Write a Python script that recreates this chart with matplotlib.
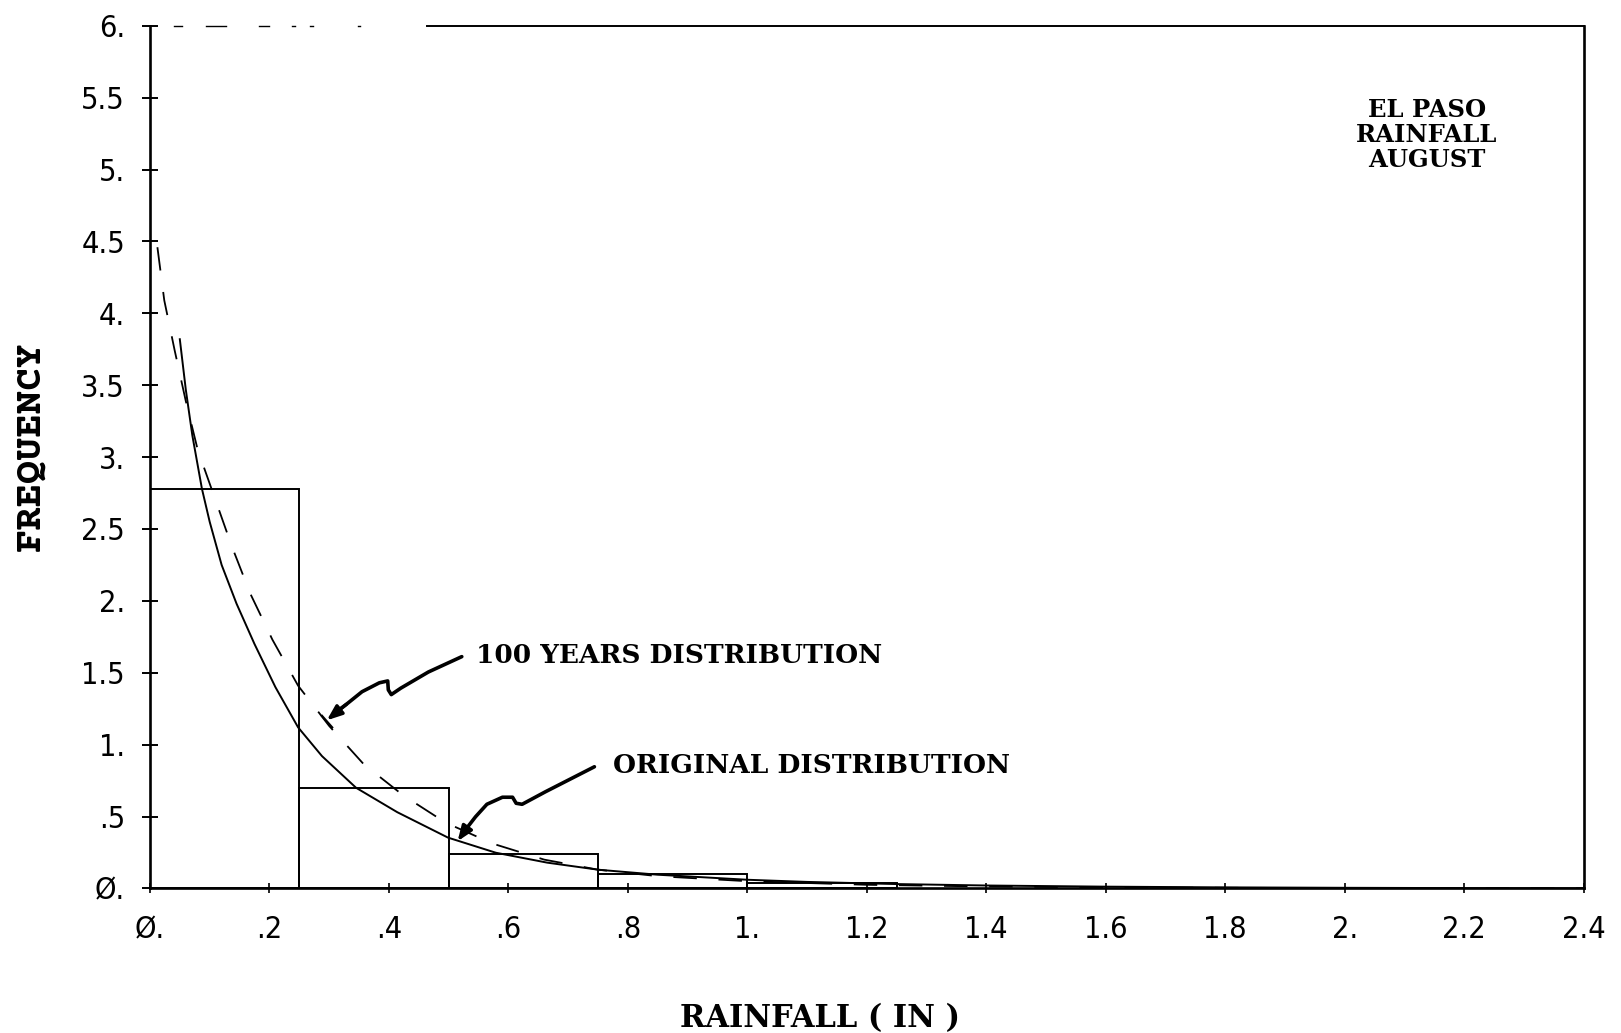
import matplotlib
matplotlib.use("Agg")
import matplotlib.pyplot as plt

# histogram of August rainfall, bins of 0.25 in
bin_left = [0.0, 0.25, 0.50, 0.75, 1.00]
bin_height = [2.78, 0.70, 0.24, 0.10, 0.04]
bin_width = 0.25

# fitted density, original record (solid)
orig_x = [0.050, 0.060, 0.071, 0.087, 0.100, 0.120, 0.145, 0.175, 0.210, 0.248, 0.288,
          0.345, 0.414, 0.499, 0.579, 0.665, 0.750, 0.850, 1.00, 1.10, 1.25, 1.40,
          1.60, 1.80, 2.00, 2.20, 2.40]
orig_y = [3.82, 3.47, 3.15, 2.78, 2.55, 2.25, 1.98, 1.70, 1.40, 1.12, 0.92,
          0.70, 0.53, 0.353, 0.248, 0.179, 0.130, 0.095, 0.060, 0.045, 0.030, 0.020,
          0.012, 0.007, 0.004, 0.002, 0.001]

# fitted density, 100 years of generated data (dashed)
sim_x = [0.0125, 0.024, 0.0415, 0.060, 0.080, 0.109, 0.137, 0.168, 0.205, 0.248, 0.300,
         0.358, 0.424, 0.495, 0.574, 0.660, 0.750, 0.850, 1.00, 1.20, 1.40, 1.60,
         1.80, 2.00, 2.40]
sim_y = [4.46, 4.09, 3.74, 3.39, 3.05, 2.71, 2.38, 2.05, 1.73, 1.41, 1.13,
         0.863, 0.647, 0.457, 0.311, 0.200, 0.130, 0.085, 0.050, 0.025, 0.013, 0.007,
         0.004, 0.002, 0.001]

x_ticks = [0.0, 0.2, 0.4, 0.6, 0.8, 1.0, 1.2, 1.4, 1.6, 1.8, 2.0, 2.2, 2.4]
x_tick_labels = ["\u00d8.", ".2", ".4", ".6", ".8", "1.", "1.2", "1.4", "1.6", "1.8", "2.", "2.2", "2.4"]
y_ticks = [0.0, 0.5, 1.0, 1.5, 2.0, 2.5, 3.0, 3.5, 4.0, 4.5, 5.0, 5.5, 6.0]
y_tick_labels = ["\u00d8.", ".5", "1.", "1.5", "2.", "2.5", "3.", "3.5", "4.", "4.5", "5.", "5.5", "6."]

# hand drawn pointer paths
arrow_100_x = [0.522, 0.466, 0.420, 0.404, 0.399, 0.398, 0.384, 0.355, 0.329, 0.309, 0.296]
arrow_100_y = [1.612, 1.505, 1.393, 1.348, 1.381, 1.443, 1.430, 1.368, 1.281, 1.219, 1.169]
arrow_orig_x = [0.744, 0.662, 0.623, 0.613, 0.607, 0.590, 0.564, 0.545, 0.531, 0.522, 0.515]
arrow_orig_y = [0.846, 0.672, 0.585, 0.592, 0.634, 0.634, 0.585, 0.498, 0.423, 0.373, 0.328]

tick_font = dict(family=["DejaVu Sans"], stretch="condensed", weight="normal", fontsize=22)
label_font = dict(family=["DejaVu Serif"], weight="bold", stretch="normal")

fig = plt.figure(figsize=(16.21, 10.33), dpi=100)
ax = fig.add_axes([0.0925, 0.140, 0.8845, 0.835])

ax.bar(bin_left, bin_height, width=bin_width, align="edge",
       facecolor="none", edgecolor="black", linewidth=1.4)
ax.plot(orig_x, orig_y, color="black", linewidth=1.4)
ax.plot(sim_x, sim_y, color="black", linewidth=1.3, dashes=(13, 12))

# pointers with arrowheads
for px, py in [(arrow_100_x, arrow_100_y), (arrow_orig_x, arrow_orig_y)]:
    ax.plot(px[:-1], py[:-1], color="black", linewidth=2.6, solid_capstyle="round")
    ax.annotate("", xy=(px[-1], py[-1]), xytext=(px[-3], py[-3]),
                arrowprops=dict(arrowstyle="-|>,head_length=0.9,head_width=0.35",
                                color="black", linewidth=2.4, shrinkA=0, shrinkB=0))
# small cross bar at the tip of the upper pointer
ax.plot([0.288, 0.305], [1.20, 1.12], color="black", linewidth=1.6)

ax.text(0.545, 1.62, "100 YEARS DISTRIBUTION", fontsize=19,
        va="center", ha="left", **label_font)
ax.text(0.775, 0.855, "ORIGINAL DISTRIBUTION", fontsize=19,
        va="center", ha="left", **label_font)
ax.text(2.137, 5.24, "EL PASO\nRAINFALL\nAUGUST", fontsize=17.5,
        va="center", ha="center", linespacing=1.05, **label_font)

ax.set_xlim(0, 2.4)
ax.set_ylim(0, 6)

# frame: top edge is broken on the left, solid further on
ax.spines["top"].set_visible(False)
for s in ["left", "bottom", "right"]:
    ax.spines[s].set_linewidth(1.9)
top_segments = [(0.040, 0.053), (0.094, 0.127), (0.183, 0.200), (0.238, 0.243),
                (0.268, 0.273), (0.348, 0.352)]
for a, b in top_segments:
    ax.plot([a, b], [6, 6], color="black", linewidth=1.0, clip_on=False)
ax.plot([0.463, 2.4], [6, 6], color="black", linewidth=1.4, clip_on=False)

ax.set_xticks(x_ticks)
ax.set_xticklabels(x_tick_labels, **tick_font)
ax.set_yticks(y_ticks)
ax.set_yticklabels(y_tick_labels, **tick_font)
ax.tick_params(axis="x", direction="inout", length=7, width=1.2, pad=16)
ax.tick_params(axis="y", direction="inout", length=12, width=1.4, pad=12)

ax.set_xlabel("RAINFALL ( IN )", fontsize=22, **label_font)
ax.xaxis.set_label_coords(0.467, -0.133)
fig.text(0.019, 0.568, "FREQUENCY", rotation=90, fontsize=28, fontweight="bold",
         family=["Courier Prime", "Liberation Mono"], va="center", ha="center")

fig.savefig("out.png", dpi=100, facecolor="white")
